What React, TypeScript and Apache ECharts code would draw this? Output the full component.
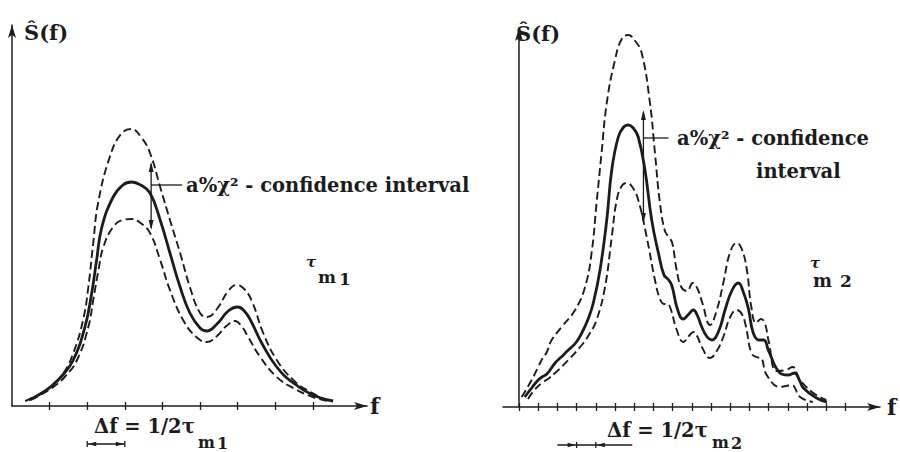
import React, { useEffect, useRef } from "react";
import * as echarts from "echarts";

// ---------- data (x in tick units, y in spectrum units) ----------
const leftTicks = [1, 2, 3, 4, 5, 6, 7, 8];
const rightTicks = [0, 1, 2, 3, 4, 5, 6, 7, 8, 9, 10, 11, 12, 13, 14, 15, 16, 17];

const leftUpper: number[][] = [
  [0.35, 5], [0.7, 11], [1.0, 18], [1.37, 33], [1.63, 53], [1.89, 86], [2.03, 119], [2.16, 163],
  [2.29, 203], [2.6, 249], [2.9, 272], [3.18, 277], [3.45, 268], [3.67, 253], [3.94, 219], [4.2, 186],
  [4.47, 153], [4.73, 119], [5.0, 93], [5.19, 89], [5.45, 97], [5.75, 115], [5.98, 121], [6.2, 116],
  [6.4, 103], [6.68, 73], [7.04, 46], [7.48, 26], [7.93, 14], [8.37, 6],
];
const leftMid: number[][] = [
  [0.45, 6], [0.75, 12], [1.05, 20], [1.35, 31], [1.63, 46], [1.94, 79], [2.12, 113], [2.25, 146],
  [2.39, 179], [2.69, 209], [2.95, 221], [3.18, 224], [3.42, 221], [3.67, 213], [3.94, 186], [4.2, 153],
  [4.47, 119], [4.73, 93], [5.0, 78], [5.18, 75], [5.45, 82], [5.75, 95], [6.0, 99], [6.2, 94],
  [6.38, 83], [6.64, 63], [7.04, 39], [7.48, 23], [8.0, 11], [8.54, 5],
];
const leftLower: number[][] = [
  [0.5, 6], [0.8, 12], [1.1, 19], [1.4, 29], [1.73, 46], [2.03, 79], [2.16, 106], [2.3, 136],
  [2.43, 159], [2.69, 179], [2.95, 186], [3.18, 187], [3.42, 183], [3.67, 173], [3.94, 146], [4.2, 116],
  [4.55, 86], [4.9, 69], [5.19, 64], [5.45, 70], [5.7, 80], [5.93, 85], [6.1, 80], [6.28, 69],
  [6.6, 49], [7.04, 29], [7.48, 18], [8.0, 9], [8.4, 5],
];

const rightUpper: number[][] = [
  [0.14, 10], [0.66, 27], [1.0, 40], [1.18, 47], [1.45, 55], [1.7, 67], [2.22, 80], [2.92, 97],
  [3.44, 120], [3.78, 154], [4.04, 204], [4.3, 254], [4.57, 304], [5.0, 347], [5.35, 368], [5.69, 372],
  [6.05, 366], [6.39, 354], [6.82, 304], [7.08, 254], [7.34, 204], [7.6, 176], [7.8, 170], [7.98, 164],
  [8.2, 138], [8.45, 120], [8.75, 116], [9.05, 124], [9.3, 118], [9.55, 104], [9.95, 82], [10.3, 97],
  [10.64, 124], [11.0, 155], [11.34, 164], [11.6, 158], [11.86, 138], [12.1, 100], [12.35, 84], [12.6, 88],
  [12.8, 84], [13.0, 66], [13.42, 36], [13.9, 37], [14.25, 40], [14.6, 28], [15.33, 14], [16.0, 7],
];
const rightMid: number[][] = [
  [0.3, 10], [0.7, 20], [1.0, 27], [1.2, 30], [1.45, 33], [1.88, 44], [2.2, 50], [2.57, 57],
  [2.95, 64], [3.27, 74], [3.6, 88], [3.87, 104], [4.22, 137], [4.57, 187], [4.83, 237], [5.17, 270],
  [5.45, 280], [5.69, 282], [5.95, 279], [6.21, 270], [6.56, 237], [6.91, 187], [7.26, 154], [7.55, 132],
  [7.75, 128], [7.95, 122], [8.25, 98], [8.55, 88], [8.85, 93], [9.08, 97], [9.3, 91], [9.52, 80],
  [9.8, 70], [10.04, 67], [10.4, 76], [10.73, 97], [11.1, 117], [11.42, 124], [11.7, 114], [11.95, 98],
  [12.2, 74], [12.5, 67], [12.75, 67], [13.0, 56], [13.59, 34], [14.0, 32], [14.35, 34], [14.6, 27],
  [14.81, 19], [15.5, 9], [16.03, 5],
];
const rightLower: number[][] = [
  [0.47, 8], [0.8, 17], [1.18, 24], [1.5, 28], [1.88, 34], [2.57, 47], [3.27, 62], [3.7, 74],
  [4.04, 87], [4.48, 120], [4.83, 170], [5.09, 207], [5.35, 221], [5.61, 224], [5.9, 220], [6.21, 207],
  [6.65, 170], [7.08, 127], [7.34, 108], [7.55, 103], [7.72, 103], [7.9, 98], [8.2, 78], [8.56, 65],
  [8.85, 71], [9.08, 75], [9.3, 70], [9.52, 60], [9.95, 49], [10.3, 56], [10.64, 70], [11.0, 90],
  [11.34, 97], [11.6, 93], [11.8, 82], [12.1, 54], [12.35, 50], [12.6, 49], [12.9, 32], [13.59, 20],
  [13.9, 21], [14.2, 22], [14.64, 10], [15.3, 5],
];

// confidence-interval arrow ends [x, yTop, yBottom, yLabelLine]
const leftCI = [3.7, 244, 176, 221];
const rightCI = [6.48, 297, 184, 269];
// Δf marker spans (tick units)
const leftDf = [2, 3];
const rightDf = [3, 4];

const INK = "#1c1c1c";
const SERIF = "'DejaVu Serif', 'Liberation Serif', serif";

export default function App() {
  const ref = useRef<HTMLDivElement>(null);

  useEffect(() => {
    const chart = echarts.init(ref.current!, null, { renderer: "svg" });

    const mainX = (grid: number, min: number, max: number, ticks: number[]) => ({
      type: "value",
      gridIndex: grid,
      position: "bottom",
      min,
      max,
      axisLine: {
        show: true,
        symbol: ["none", "arrow"],
        symbolSize: [6, 13],
        lineStyle: { color: INK, width: 1.5 },
      },
      axisTick: { show: true, customValues: ticks, length: 4, lineStyle: { color: INK, width: 1.3 } },
      axisLabel: { show: false },
      splitLine: { show: false },
    });
    const innerX = (grid: number, min: number, max: number, ticks: number[]) => ({
      type: "value",
      gridIndex: grid,
      position: "bottom",
      min,
      max,
      axisLine: { show: false },
      axisTick: { show: true, inside: true, customValues: ticks, length: 4, lineStyle: { color: INK, width: 1.3 } },
      axisLabel: { show: false },
      splitLine: { show: false },
    });
    const yAx = (grid: number, max: number) => ({
      type: "value",
      gridIndex: grid,
      min: 0,
      max,
      axisLine: {
        show: true,
        symbol: ["none", "arrow"],
        symbolSize: [6, 13],
        lineStyle: { color: INK, width: 1.5 },
      },
      axisTick: { show: false },
      axisLabel: { show: false },
      splitLine: { show: false },
    });

    const curve = (data: number[][], xi: number, yi: number, solid: boolean) => ({
      type: "line",
      xAxisIndex: xi,
      yAxisIndex: yi,
      data,
      smooth: 0.45,
      showSymbol: false,
      symbol: "none",
      silent: true,
      lineStyle: solid
        ? { color: INK, width: 2.8 }
        : { color: INK, width: 1.9, type: [8, 4] },
    });

    chart.setOption({
      animation: false,
      backgroundColor: "#ffffff",
      grid: [
        { left: 12, top: 25, width: 355, height: 381 },
        { left: 503, top: 28, width: 377, height: 379 },
      ],
      xAxis: [
        mainX(0, 0, 9.44, leftTicks),
        innerX(0, 0, 9.44, leftTicks),
        mainX(1, -0.833, 18.8, rightTicks),
        innerX(1, -0.833, 18.8, rightTicks),
      ],
      yAxis: [yAx(0, 381), yAx(1, 379)],
      series: [
        curve(leftUpper, 0, 0, false),
        curve(leftMid, 0, 0, true),
        curve(leftLower, 0, 0, false),
        curve(rightUpper, 2, 1, false),
        curve(rightMid, 2, 1, true),
        curve(rightLower, 2, 1, false),
      ],
    });

    const P = (si: number, x: number, y: number) =>
      chart.convertToPixel({ seriesIndex: si }, [x, y]) as number[];

    const lineEl = (x1: number, y1: number, x2: number, y2: number, w = 1.3) => ({
      type: "line",
      silent: true,
      shape: { x1, y1, x2, y2 },
      style: { stroke: INK, lineWidth: w },
    });
    const tri = (pts: number[][]) => ({
      type: "polygon",
      silent: true,
      shape: { points: pts },
      style: { fill: INK },
    });
    const txt = (text: string, x: number, y: number, size: number, extra: any = {}) => ({
      type: "text",
      silent: true,
      x,
      y,
      style: {
        text,
        font: `${extra.italic ? "italic " : ""}bold ${size}px ${SERIF}`,
        fill: INK,
        align: extra.align || "left",
        verticalAlign: "middle",
      },
    });

    const ciArrow = (si: number, ci: number[]) => {
      const top = P(si, ci[0], ci[1]);
      const bot = P(si, ci[0], ci[2]);
      const lab = P(si, ci[0], ci[3]);
      const x = top[0];
      return [
        lineEl(x, top[1] + 2, x, bot[1] - 2, 1.3),
        tri([[x, top[1]], [x - 2.5, top[1] + 10], [x + 2.5, top[1] + 10]]),
        tri([[x, bot[1]], [x - 2.5, bot[1] - 10], [x + 2.5, bot[1] - 10]]),
        lineEl(x, lab[1], x + (si === 0 ? 31 : 25), lab[1], 1.3),
      ];
    };

    const dfOut = (si: number, span: number[], yPix: number) => {
      const a = P(si, span[0], 0)[0];
      const b = P(si, span[1], 0)[0];
      return [
        lineEl(a, yPix, b, yPix, 1.3),
        lineEl(a, yPix - 3, a, yPix + 3, 1.3),
        lineEl(b, yPix - 3, b, yPix + 3, 1.3),
        tri([[a + 1, yPix], [a + 9, yPix - 2.2], [a + 9, yPix + 2.2]]),
        tri([[b - 1, yPix], [b - 9, yPix - 2.2], [b - 9, yPix + 2.2]]),
      ];
    };
    const dfIn = (si: number, span: number[], yPix: number) => {
      const a = P(si, span[0], 0)[0];
      const b = P(si, span[1], 0)[0];
      const w = b - a;
      return [
        lineEl(a - w, yPix, b + w * 1.9, yPix, 1.3),
        lineEl(a, yPix - 3, a, yPix + 3, 1.3),
        lineEl(b, yPix - 3, b, yPix + 3, 1.3),
        tri([[a - 1, yPix], [a - 9, yPix - 2.2], [a - 9, yPix + 2.2]]),
        tri([[b + 1, yPix], [b + 9, yPix - 2.2], [b + 9, yPix + 2.2]]),
      ];
    };

    chart.setOption({
      graphic: [
        ...ciArrow(0, leftCI),
        ...ciArrow(3, rightCI),
        ...dfOut(0, leftDf, 444),
        ...dfIn(3, rightDf, 445),
        // axis titles
        txt("Ŝ(f)", 24, 32, 21),
        txt("Ŝ(f)", 516, 33, 21),
        txt("f", 370, 406, 22),
        txt("f", 887, 407, 22),
        // confidence annotation
        txt("a%χ² - confidence interval", 186, 185, 19.5),
        txt("a%χ² - confidence", 677, 138, 19.5),
        txt("interval", 756, 171, 19.5),
        // tau labels
        txt("τ", 306, 262, 15, { italic: true }),
        txt("m", 318, 277, 17),
        txt("1", 339, 279, 17),
        txt("τ", 810, 263, 15, { italic: true }),
        txt("m", 813, 280, 18),
        txt("2", 840, 281, 17),
        // Δf labels
        txt("Δf = 1/2τ", 94, 426, 19.5),
        txt("m", 198, 442, 16),
        txt("1", 217, 443, 16),
        txt("Δf = 1/2τ", 607, 430, 19.5),
        txt("m", 712, 442, 16),
        txt("2", 731, 443, 16),
      ],
    });

    return () => chart.dispose();
  }, []);

  return (
    <div
      ref={ref}
      style={{ position: "fixed", left: 0, top: 0, width: 900, height: 452, background: "#fff" }}
    />
  );
}
